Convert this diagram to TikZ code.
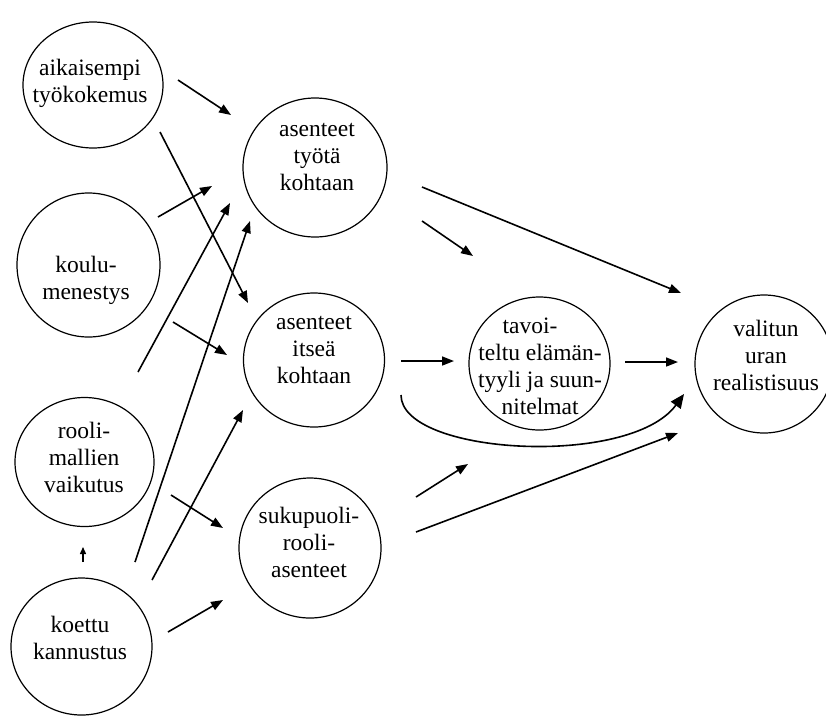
\documentclass[tikz,border=0pt]{standalone}
\usepackage{fontspec}
\setmainfont{Liberation Serif}
\usetikzlibrary{shapes.geometric,arrows.meta}
\begin{document}
\begin{tikzpicture}[x=1pt,y=-1pt,
  circ/.style={draw, ellipse, line width=1.2pt, inner sep=0pt},
  lbl/.style={align=center, font=\fontsize{23.5}{27}\selectfont, inner sep=0pt},
  arr/.style={line width=1.6pt, -{Triangle[length=12pt,width=9pt]}},
  bigarr/.style={line width=1.6pt, -{Triangle[length=14pt,width=12pt]}},
  smallarr/.style={line width=1.4pt, -{Triangle[length=7pt,width=6pt]}},
]
\useasboundingbox (0,0) rectangle (826,716);

% circles
\node[circ, minimum width=140pt, minimum height=126pt] (aik) at (93,85) {};
\node[circ, minimum width=143pt, minimum height=144pt] (kou) at (88.5,265) {};
\node[circ, minimum width=139pt, minimum height=129pt] (roo) at (84.5,462) {};
\node[circ, minimum width=141pt, minimum height=137pt] (koe) at (81.5,646.5) {};
\node[circ, minimum width=144pt, minimum height=139pt] (tyo) at (315,167.5) {};
\node[circ, minimum width=141pt, minimum height=134pt] (its) at (314,360) {};
\node[circ, minimum width=142pt, minimum height=140pt] (suk) at (310,548) {};
\node[circ, minimum width=141pt, minimum height=133pt] (tav) at (539.5,363.5) {};
\node[circ, minimum width=138pt, minimum height=138pt] (val) at (764,364) {};

% labels
\node[lbl] (aikT) at (90,83.5) {aikaisempi\\työkokemus};
\node[lbl] (kouT) at (86,280) {koulu-\\menestys};
\node[lbl] (rooT) at (84,457) {rooli-\\mallien\\vaikutus};
\node[lbl] (koeT) at (80,637.5) {koettu\\kannustus};
\node[lbl] (tyoT) at (317,157) {asenteet\\työtä\\kohtaan};
\node[lbl] (itsT) at (314,350) {asenteet\\itseä\\kohtaan};
\node[lbl] (sukT) at (309,542.5) {sukupuoli-\\rooli-\\asenteet};
\node[lbl] (tavT) at (540,366) {tavoi-\hspace*{20pt}\\teltu elämän-\\tyyli ja suun-\\nitelmat};
\node[lbl] (valT) at (766,355) {valitun\\uran\\realistisuus};

% connector end points
\coordinate (s1) at (178,80);   \coordinate (e1) at (231,115);
\coordinate (s2) at (160,132);  \coordinate (e2) at (248,303);
\coordinate (s3) at (158,217);  \coordinate (e3) at (212,186);
\coordinate (s4) at (138,372);  \coordinate (e4) at (230,203);
\coordinate (s5) at (135,562);  \coordinate (e5) at (250,221);
\coordinate (s6) at (173,322);  \coordinate (e6) at (227,355);
\coordinate (s7) at (152,580);  \coordinate (e7) at (243,410);
\coordinate (s8) at (171,495);  \coordinate (e8) at (223,528);
\coordinate (s9) at (83,562);   \coordinate (e9) at (83,547);
\coordinate (s10) at (168,632); \coordinate (e10) at (223,600);
\coordinate (s11) at (422,187); \coordinate (e11) at (681,293);
\coordinate (s12) at (422,221); \coordinate (e12) at (473,256);
\coordinate (s13) at (401,361); \coordinate (e13) at (454,361);
\coordinate (s14) at (625,362); \coordinate (e14) at (678,362);
\coordinate (s15) at (401,395); \coordinate (e15) at (684,394);
\coordinate (s16) at (416,497); \coordinate (e16) at (468,464);
\coordinate (s17) at (416,532); \coordinate (e17) at (678,433);

% connectors
\draw[arr] (s1) -- (e1);
\draw[arr] (s2) -- (e2);
\draw[arr] (s3) -- (e3);
\draw[arr] (s4) -- (e4);
\draw[arr] (s5) -- (e5);
\draw[arr] (s6) -- (e6);
\draw[arr] (s7) -- (e7);
\draw[arr] (s8) -- (e8);
\draw[smallarr] (s9) -- (e9);
\draw[arr] (s10) -- (e10);
\draw[arr] (s11) -- (e11);
\draw[arr] (s12) -- (e12);
\draw[arr] (s13) -- (e13);
\draw[arr] (s14) -- (e14);
\draw[bigarr] (s15) .. controls (401,455) and (630,468) .. (e15);
\draw[arr] (s16) -- (e16);
\draw[arr] (s17) -- (e17);
\end{tikzpicture}
\end{document}
